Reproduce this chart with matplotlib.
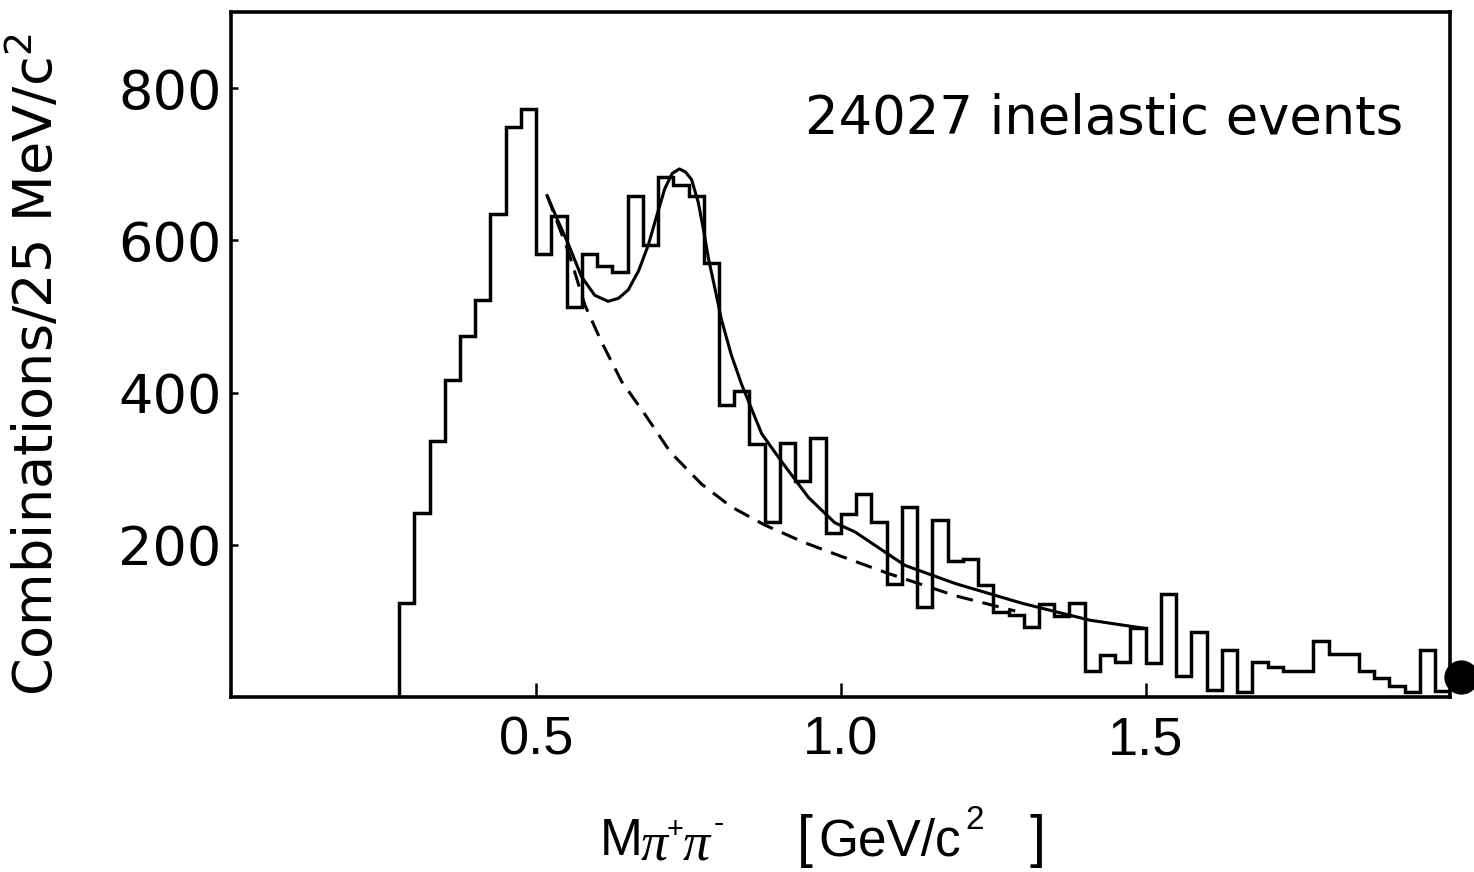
import numpy as np
from matplotlib import pyplot as plt

# histogram: 25 MeV bins from 0.275 to 2.0 GeV
bin_lo = 0.275
bin_w = 0.025
counts = [124, 242, 337, 416, 474, 522, 635, 749, 773, 582,
          632, 512, 582, 566, 559, 659, 594, 683, 673, 659,
          571, 384, 402, 333, 230, 334, 284, 340, 215, 240,
          267, 230, 148, 250, 118, 233, 179, 182, 147, 112,
          108, 92, 122, 107, 124, 34, 55, 46, 91, 45,
          136, 28, 86, 9, 62, 6, 46, 39, 34, 34,
          74, 56, 56, 34, 25, 14, 7, 62, 8]

# fitted curve (resonance + background)
fit_x = [0.518, 0.535, 0.553, 0.574, 0.596, 0.618, 0.635, 0.651, 0.668,
         0.684, 0.698, 0.711, 0.723, 0.735, 0.745, 0.755, 0.766, 0.775,
         0.783, 0.793, 0.804, 0.820, 0.837, 0.870, 0.903, 0.947, 0.990,
         1.023, 1.105, 1.188, 1.298, 1.408, 1.500]
fit_y = [659, 627, 595, 553, 528, 520, 524, 535, 560,
         594, 633, 668, 688, 694, 690, 680, 650, 612,
         575, 538, 496, 450, 411, 346, 309, 262, 229,
         217, 173, 149, 123, 101, 90]

# background only (dashed)
bg_x = [0.518, 0.553, 0.580, 0.607, 0.640, 0.678, 0.720, 0.771, 0.820,
        0.875, 0.940, 1.000, 1.079, 1.188, 1.286]
bg_y = [659, 585, 515, 467, 415, 372, 322, 280, 250,
        226, 203, 185, 162, 133, 113]

edges = bin_lo + bin_w * np.arange(len(counts) + 1)

plt.rcParams['font.family'] = ['DejaVu Sans']
sans = 'Liberation Sans'

fig = plt.figure(figsize=(14.74, 8.72), dpi=100)
ax = fig.add_axes([0.157, 0.2007, 0.827, 0.7853])

ax.stairs(counts, edges, color='black', linewidth=2.5, baseline=0)
ax.plot(fit_x, fit_y, color='black', linewidth=2.2)
ax.plot(bg_x, bg_y, color='black', linewidth=2.2, linestyle=(0, (5.5, 3.2)))

# the punched dot at the lower right corner
ax.scatter([2.018], [26], s=560, color='black', clip_on=False, zorder=5)

ax.set_xlim(0, 2.0)
ax.set_ylim(0, 900)
ax.set_xticks([0.5, 1.0, 1.5])
ax.set_xticklabels(['0.5', '1.0', '1.5'], family=sans)
ax.set_yticks([200, 400, 600, 800])
ax.tick_params(axis='x', direction='in', length=10, width=1.8, labelsize=39, pad=13)
ax.tick_params(axis='y', direction='in', length=5, width=1.8, labelsize=39, pad=7)
for s in ax.spines.values():
    s.set_linewidth(2.6)

ax.set_ylabel('Combinations/25 MeV/c$^2$', fontsize=39)
ax.yaxis.set_label_coords(-0.137, 0.485)


# x label put together piece by piece (large pi subscripts)
def fx(px):
    return px / 1474


def fy(py):
    return 1 - py / 872


fig.text(fx(600), fy(855), 'M', family=sans, fontsize=37, va='baseline')
fig.text(fx(641), fy(871), '\u03c0', family='Liberation Serif', style='italic',
         fontsize=39, va='bottom')
fig.text(fx(667), fy(838), '+', family=sans, fontsize=21, va='baseline')
fig.text(fx(683), fy(871), '\u03c0', family='Liberation Serif', style='italic',
         fontsize=39, va='bottom')
fig.text(fx(714), fy(832), '-', family=sans, fontsize=22, va='baseline')
fig.text(fx(797), fy(856), '[', family=sans, fontsize=41, va='baseline')
fig.text(fx(818), fy(855), 'GeV/c', family=sans, fontsize=37, va='baseline')
fig.text(fx(965), fy(829), '2', family=sans, fontsize=24, va='baseline')
fig.text(fx(1030), fy(856), ']', family=sans, fontsize=41, va='baseline')

ax.text(0.941, 740, '24027 inelastic events', fontsize=38, ha='left', va='baseline')

plt.savefig('out.png', dpi=100)
